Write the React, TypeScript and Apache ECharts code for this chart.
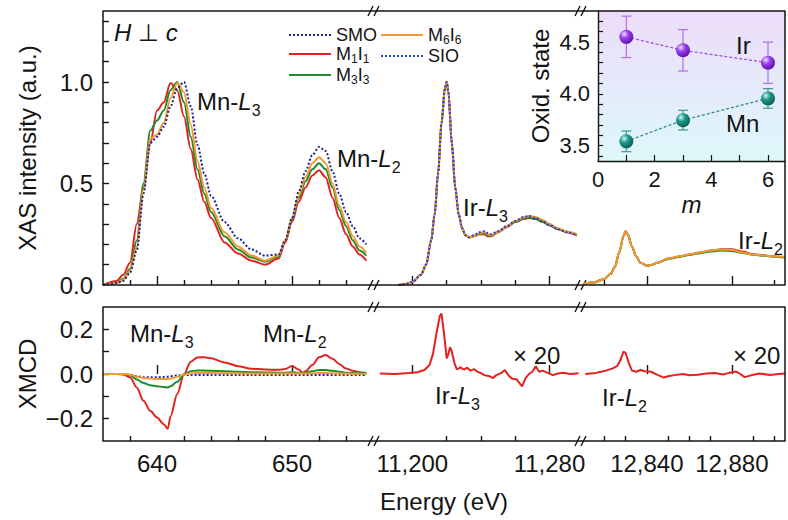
import React, { useEffect, useRef } from 'react';
import * as echarts from 'echarts';

const FONT = "'Liberation Sans', Arial, Helvetica, sans-serif";
const INK = '#141414';
const RED = '#e3231f';
const GREEN = '#1f8a2b';
const ORANGE = '#f29a30';
const SMO_BLUE = '#1d2290';
const SIO_BLUE = '#2a3bdc';

// ---------- axis ticks / labels ----------
const mnMajorTicks = [640, 650];
const mnMinorTicks = [638, 642, 644, 646, 648, 652, 654];
const irL3MajorTicks = [11200, 11280];
const irL3MinorTicks = [11220, 11240, 11260];
const irL2MajorTicks = [12840, 12880];
const irL2MinorTicksTop = [12820, 12860, 12900];
const irL2MinorTicksBottom = [12820, 12830, 12850, 12860, 12870, 12890, 12900];
const xasTicks = [0.1, 0.2, 0.3, 0.4, 0.5, 0.6, 0.7, 0.8, 0.9, 1.0, 1.1, 1.2, 1.3];
const xasLabels = [0, 0.5, 1.0];
const xmcdTicks = [-0.2, -0.1, 0, 0.1, 0.2];
const xmcdLabels = [-0.2, 0, 0.2];
const insetXTicks = [1, 2, 3, 4, 5, 6];
const insetXLabels = [0, 2, 4, 6];
const insetYTicks = [3.4, 3.5, 3.6, 3.7, 3.8, 3.9, 4.0, 4.1, 4.2, 4.3, 4.4, 4.5, 4.6, 4.7];
const insetYLabels = [3.5, 4.0, 4.5];

// ---------- XAS, Mn L-edge ----------
const mnEnergy = [636, 637, 637.5, 638, 638.5, 639, 639.5, 640, 640.5, 641, 641.5, 642, 642.5, 643, 643.5, 644, 645, 646, 647, 648, 649, 649.5, 650, 650.5, 651, 651.5, 652, 652.5, 653, 653.5, 654, 654.5, 655, 655.5];
const mnXasM1I1 = [0, 0.02, 0.05, 0.11, 0.30, 0.48, 0.70, 0.86, 0.90, 0.995, 0.96, 0.83, 0.67, 0.52, 0.41, 0.33, 0.21, 0.155, 0.12, 0.10, 0.13, 0.21, 0.31, 0.41, 0.48, 0.54, 0.565, 0.53, 0.43, 0.33, 0.25, 0.19, 0.15, 0.12];
const mnXasM3I3 = [0, 0.01, 0.03, 0.08, 0.22, 0.50, 0.76, 0.81, 0.86, 0.96, 1.0, 0.90, 0.73, 0.57, 0.45, 0.36, 0.24, 0.175, 0.135, 0.115, 0.14, 0.22, 0.32, 0.43, 0.51, 0.57, 0.60, 0.57, 0.48, 0.37, 0.29, 0.22, 0.17, 0.145];
const mnXasM6I6 = [0, 0.01, 0.025, 0.07, 0.19, 0.47, 0.72, 0.74, 0.80, 0.92, 0.995, 0.95, 0.79, 0.61, 0.48, 0.38, 0.26, 0.19, 0.145, 0.12, 0.145, 0.22, 0.33, 0.44, 0.53, 0.60, 0.63, 0.60, 0.50, 0.39, 0.31, 0.24, 0.19, 0.16];
const mnXasSMO = [0, 0.01, 0.02, 0.06, 0.17, 0.45, 0.70, 0.73, 0.78, 0.88, 0.97, 1.0, 0.88, 0.69, 0.55, 0.44, 0.31, 0.23, 0.175, 0.145, 0.15, 0.22, 0.33, 0.46, 0.56, 0.64, 0.68, 0.66, 0.56, 0.45, 0.36, 0.29, 0.23, 0.20];

// ---------- XAS, Ir L3-edge ----------
const irL3Energy = [11192, 11196, 11200, 11205, 11208, 11211, 11213, 11215, 11217, 11219, 11220, 11221, 11223, 11225, 11227, 11229, 11231, 11233, 11236, 11239, 11242, 11244, 11246, 11250, 11255, 11260, 11265, 11268, 11272, 11276, 11280, 11285, 11290, 11296];
const irL3XasM1I1 = [0, 0.005, 0.015, 0.05, 0.10, 0.22, 0.35, 0.55, 0.80, 0.97, 1.0, 0.95, 0.70, 0.48, 0.35, 0.28, 0.245, 0.235, 0.24, 0.25, 0.25, 0.24, 0.24, 0.26, 0.285, 0.31, 0.325, 0.33, 0.325, 0.31, 0.295, 0.275, 0.26, 0.245];
const irL3XasM3I3 = [0, 0.005, 0.015, 0.05, 0.10, 0.22, 0.35, 0.55, 0.80, 0.97, 1.0, 0.95, 0.70, 0.48, 0.35, 0.28, 0.245, 0.235, 0.242, 0.252, 0.255, 0.245, 0.243, 0.262, 0.287, 0.312, 0.328, 0.332, 0.326, 0.312, 0.295, 0.276, 0.262, 0.248];
const irL3XasM6I6 = [0, 0.005, 0.015, 0.05, 0.10, 0.22, 0.35, 0.55, 0.80, 0.97, 1.0, 0.95, 0.70, 0.48, 0.35, 0.28, 0.245, 0.235, 0.24, 0.255, 0.26, 0.25, 0.245, 0.262, 0.288, 0.315, 0.333, 0.34, 0.335, 0.32, 0.30, 0.28, 0.263, 0.25];
const irL3XasSIO = [0, 0.005, 0.015, 0.05, 0.10, 0.22, 0.35, 0.55, 0.80, 0.97, 1.0, 0.95, 0.70, 0.48, 0.35, 0.28, 0.245, 0.235, 0.245, 0.26, 0.265, 0.255, 0.25, 0.265, 0.29, 0.315, 0.335, 0.34, 0.33, 0.315, 0.295, 0.275, 0.26, 0.245];

// ---------- XAS, Ir L2-edge ----------
const irL2Energy = [12810, 12815, 12820, 12823, 12825, 12827, 12829, 12830, 12831, 12833, 12835, 12837, 12840, 12842, 12845, 12850, 12855, 12860, 12865, 12870, 12875, 12880, 12885, 12890, 12895, 12900, 12905];
const irL2XasM1I1 = [0.005, 0.012, 0.03, 0.055, 0.09, 0.16, 0.24, 0.265, 0.25, 0.19, 0.14, 0.11, 0.095, 0.098, 0.11, 0.13, 0.14, 0.15, 0.16, 0.17, 0.176, 0.176, 0.165, 0.152, 0.146, 0.141, 0.138];
const irL2XasM3I3 = [0.005, 0.012, 0.03, 0.055, 0.09, 0.16, 0.24, 0.265, 0.25, 0.19, 0.14, 0.11, 0.095, 0.098, 0.11, 0.128, 0.138, 0.148, 0.157, 0.165, 0.17, 0.168, 0.158, 0.149, 0.144, 0.139, 0.136];
const irL2XasM6I6 = [0.005, 0.012, 0.03, 0.055, 0.09, 0.16, 0.24, 0.265, 0.25, 0.19, 0.14, 0.11, 0.095, 0.098, 0.11, 0.13, 0.14, 0.15, 0.16, 0.17, 0.175, 0.172, 0.16, 0.15, 0.145, 0.14, 0.138];

// ---------- XMCD, Mn L-edge ----------
const mnMcdEnergy = [636, 637, 637.5, 638, 638.5, 639, 639.5, 640, 640.5, 640.8, 641, 641.5, 642, 642.5, 643, 643.5, 644, 645, 646, 647, 648, 649, 649.5, 650, 650.5, 650.8, 651, 651.5, 652, 652.5, 653, 653.5, 654, 654.5, 655, 655.5];
const mnMcdM1I1 = [0, 0, -0.002, -0.015, -0.06, -0.12, -0.165, -0.195, -0.225, -0.245, -0.19, -0.09, 0.0, 0.055, 0.074, 0.075, 0.07, 0.052, 0.035, 0.024, 0.02, 0.019, 0.022, 0.036, 0.02, 0.006, 0.012, 0.04, 0.075, 0.085, 0.068, 0.045, 0.025, 0.015, 0.008, 0.005];
const mnMcdM3I3 = [0, 0, 0, -0.005, -0.025, -0.04, -0.05, -0.055, -0.058, -0.06, -0.055, -0.035, -0.002, 0.012, 0.016, 0.016, 0.014, 0.012, 0.01, 0.008, 0.007, 0.006, 0.006, 0.008, 0.006, 0.004, 0.006, 0.012, 0.018, 0.018, 0.014, 0.01, 0.006, 0.004, 0.003, 0.002];
const mnMcdM6I6 = [0, 0, 0, -0.003, -0.012, -0.018, -0.02, -0.022, -0.022, -0.022, -0.02, -0.012, -0.002, 0.002, 0.004, 0.004, 0.004, 0.003, 0.003, 0.002, 0.002, 0.002, 0.002, 0.003, 0.002, 0.002, 0.002, 0.003, 0.004, 0.004, 0.003, 0.002, 0.002, 0.001, 0.001, 0.001];
const mnMcdSMO = [0, 0, 0, -0.003, -0.01, -0.014, -0.015, -0.015, -0.013, -0.012, -0.01, -0.007, -0.005, -0.005, -0.005, -0.005, -0.005, -0.005, -0.005, -0.005, -0.005, -0.005, -0.005, -0.005, -0.005, -0.005, -0.005, -0.005, -0.005, -0.005, -0.005, -0.005, -0.005, -0.005, -0.005, -0.005];

// ---------- XMCD (x20), Ir L3 / L2 ----------
const irL3McdEnergy = [11181, 11190, 11198, 11203, 11207, 11210, 11212, 11214, 11216, 11217, 11218.5, 11220, 11221, 11222, 11223, 11224.5, 11226, 11228, 11230, 11232, 11234, 11236, 11238, 11240, 11242, 11245, 11247, 11249, 11252, 11254, 11256, 11258, 11261, 11263, 11264, 11266, 11268, 11270, 11272, 11274, 11276, 11279, 11282, 11285, 11288, 11292, 11297];
const irL3McdM1I1 = [0.002, 0, 0.004, 0.008, 0.018, 0.04, 0.09, 0.18, 0.26, 0.27, 0.18, 0.07, 0.09, 0.12, 0.1, 0.05, 0.02, 0.03, 0.02, 0.028, 0.015, 0.022, 0.01, 0.004, -0.005, -0.01, -0.018, -0.005, 0.005, 0.018, -0.005, -0.02, -0.025, -0.045, -0.055, -0.02, 0, 0.01, 0.035, 0.01, 0.015, 0.005, -0.005, 0.002, 0.006, 0, 0.003];
const irL2McdEnergy = [12811, 12816, 12820, 12824, 12826, 12827.5, 12829, 12830, 12831.5, 12833, 12835, 12837, 12839, 12842, 12845, 12848, 12850, 12853, 12857, 12860, 12864, 12868, 12872, 12876, 12879, 12882, 12884, 12886, 12889, 12893, 12898, 12902, 12905];
const irL2McdM1I1 = [0, 0.005, 0.013, 0.025, 0.035, 0.06, 0.1, 0.095, 0.05, 0.015, 0.01, 0.018, 0.012, 0.01, -0.004, -0.016, -0.01, -0.005, 0, -0.006, -0.003, 0.002, 0.004, -0.002, 0.006, 0.011, 0, -0.014, -0.006, 0.002, -0.004, 0, 0.002];

// ---------- inset: oxidation states ----------
const layersM = [1, 3, 6];
const irOxidation = [4.55, 4.42, 4.30];
const irError = [0.2, 0.2, 0.2];
const mnOxidation = [3.54, 3.745, 3.955];
const mnError = [0.1, 0.095, 0.095];

// ---------- layout ----------
const PANEL_LEFT = 103;
const PANEL_RIGHT = 785;
const TOP_Y = 11;
const TOP_H = 274;
const BOT_Y = 307;
const BOT_H = 134;
const SEG = [
  { left: 103, width: 270, min: 636, max: 656 },
  { left: 373, width: 209, min: 11177, max: 11299 },
  { left: 582, width: 203, min: 12809.5, max: 12905 },
];
const BREAK_X = [375, 582];

const fmtEnergy = (v: number) => (v >= 1000 ? v.toLocaleString('en-US') : String(v));
const fmtSigned = (v: number) => (v < 0 ? '\u2212' + Math.abs(v).toFixed(1) : v.toFixed(1));

const RICH_ANN = {
  n: { fontSize: 24, fontFamily: FONT, color: INK, lineHeight: 34 },
  i: { fontSize: 24, fontFamily: FONT, color: INK, fontStyle: 'italic', lineHeight: 34 },
  s: { fontSize: 16, fontFamily: FONT, color: INK, verticalAlign: 'bottom', lineHeight: 16 },
};
const RICH_LEG = {
  n: { fontSize: 18, fontFamily: FONT, color: INK, lineHeight: 22 },
  s: { fontSize: 12, fontFamily: FONT, color: INK, verticalAlign: 'bottom', lineHeight: 12 },
};
const legendLabel: Record<string, string> = {
  SMO: '{n|SMO}',
  M1I1: '{n|M}{s|1}{n|I}{s|1}',
  M3I3: '{n|M}{s|3}{n|I}{s|3}',
  M6I6: '{n|M}{s|6}{n|I}{s|6}',
  SIO: '{n|SIO}',
};

function xAxesFor(grid: number, major: number[], minor: number[], labels: boolean) {
  const seg = SEG[grid % 3];
  const common = {
    type: 'value', gridIndex: grid, min: seg.min, max: seg.max, position: 'bottom',
    axisLine: { show: false }, splitLine: { show: false }, axisPointer: { show: false },
  };
  return [
    {
      ...common,
      axisTick: { show: true, inside: true, length: 9, customValues: major, lineStyle: { color: INK, width: 1.4 } },
      axisLabel: { show: labels, customValues: major, formatter: fmtEnergy, fontSize: 24, color: INK, fontFamily: FONT, margin: 10 },
    },
    {
      ...common,
      axisTick: { show: true, inside: true, length: 5, customValues: minor, lineStyle: { color: INK, width: 1.4 } },
      axisLabel: { show: false },
    },
  ];
}

function hiddenY(grid: number, min: number, max: number) {
  return { type: 'value', gridIndex: grid, min, max, show: false };
}

function curve(name: string, grid: number, xs: number[], ys: number[], color: string, dotted: boolean, smooth: boolean) {
  return {
    type: 'line', name, xAxisIndex: grid * 2, yAxisIndex: grid,
    data: xs.map((x, i) => [x, ys[i]]),
    symbol: 'none', smooth: smooth ? 0.3 : false, smoothMonotone: 'x',
    lineStyle: { color, width: 2, type: dotted ? [2, 2] : 'solid' },
    itemStyle: { color },
    emphasis: { disabled: true }, silent: true,
  };
}

function errorBars(ys: number[], errs: number[], color: string) {
  return {
    type: 'custom', xAxisIndex: 12, yAxisIndex: 6, z: 3, silent: true,
    data: layersM.map((m, i) => [m, ys[i] - errs[i], ys[i] + errs[i]]),
    encode: { x: 0, y: [1, 2] },
    renderItem: (_p: any, api: any) => {
      const x = api.value(0);
      const lo = api.coord([x, api.value(1)]);
      const hi = api.coord([x, api.value(2)]);
      const st = { stroke: color, lineWidth: 1.2 };
      return {
        type: 'group',
        children: [
          { type: 'line', shape: { x1: lo[0], y1: lo[1], x2: hi[0], y2: hi[1] }, style: st },
          { type: 'line', shape: { x1: lo[0] - 5, y1: lo[1], x2: lo[0] + 5, y2: lo[1] }, style: st },
          { type: 'line', shape: { x1: hi[0] - 5, y1: hi[1], x2: hi[0] + 5, y2: hi[1] }, style: st },
        ],
      };
    },
  };
}

function sphere(light: string, mid: string, dark: string) {
  return new echarts.graphic.RadialGradient(0.35, 0.3, 0.75, [
    { offset: 0, color: light },
    { offset: 0.4, color: mid },
    { offset: 1, color: dark },
  ]);
}

function ann(text: string, x: number, y: number, align = 'left') {
  return { type: 'text', x, y, z: 60, silent: true, style: { text, rich: RICH_ANN, align, verticalAlign: 'middle', fill: INK, fontSize: 24, fontFamily: FONT } };
}

function breakMark(x: number, y: number) {
  const st = { stroke: INK, lineWidth: 1.4 };
  return {
    type: 'group', z: 70, silent: true,
    children: [
      { type: 'rect', shape: { x: x - 3, y: y - 2, width: 5, height: 4 }, style: { fill: '#fff' } },
      { type: 'line', shape: { x1: x - 7, y1: y + 5, x2: x - 2, y2: y - 5 }, style: st },
      { type: 'line', shape: { x1: x - 1, y1: y + 5, x2: x + 4, y2: y - 5 }, style: st },
    ],
  };
}

function buildOption() {
  const grids = [
    ...SEG.map((s) => ({ left: s.left, top: TOP_Y, width: s.width, height: TOP_H })),
    ...SEG.map((s) => ({ left: s.left, top: BOT_Y, width: s.width, height: BOT_H })),
    {
      left: 598, top: TOP_Y, width: PANEL_RIGHT - 598, height: 150, show: true, borderWidth: 0,
      backgroundColor: new echarts.graphic.LinearGradient(0, 0, 0, 1, [
        { offset: 0, color: '#eddcfa' },
        { offset: 1, color: '#ddf8fa' },
      ]),
    },
  ];

  const xAxis: any[] = [
    ...xAxesFor(0, mnMajorTicks, mnMinorTicks, false),
    ...xAxesFor(1, irL3MajorTicks, irL3MinorTicks, false),
    ...xAxesFor(2, irL2MajorTicks, irL2MinorTicksTop, false),
    ...xAxesFor(3, mnMajorTicks, mnMinorTicks, true),
    ...xAxesFor(4, irL3MajorTicks, irL3MinorTicks, true),
    ...xAxesFor(5, irL2MajorTicks, irL2MinorTicksBottom, true),
    {
      type: 'value', gridIndex: 6, min: 0, max: 6.6, position: 'bottom',
      axisLine: { show: true, lineStyle: { color: INK, width: 1.4 } },
      axisTick: { show: true, inside: true, length: 6, customValues: insetXTicks, lineStyle: { color: INK, width: 1.2 } },
      axisLabel: { customValues: insetXLabels, fontSize: 22, color: INK, fontFamily: FONT, margin: 7 },
      splitLine: { show: false },
      name: 'm', nameLocation: 'middle', nameGap: 31,
      nameTextStyle: { fontSize: 24, fontStyle: 'italic', color: INK, fontFamily: FONT },
    },
  ];

  const yAxis: any[] = [
    {
      type: 'value', gridIndex: 0, min: 0, max: 1.35,
      axisLine: { show: false }, splitLine: { show: false },
      axisTick: { show: true, inside: true, length: 6, customValues: xasTicks, lineStyle: { color: INK, width: 1.4 } },
      axisLabel: { customValues: xasLabels, formatter: fmtSigned, fontSize: 24, color: INK, fontFamily: FONT, margin: 10 },
      name: 'XAS intensity (a.u.)', nameLocation: 'middle', nameGap: 64,
      nameTextStyle: { fontSize: 24, color: INK, fontFamily: FONT },
    },
    hiddenY(1, 0, 1.35),
    hiddenY(2, 0, 1.35),
    {
      type: 'value', gridIndex: 3, min: -0.3, max: 0.3,
      axisLine: { show: false }, splitLine: { show: false },
      axisTick: { show: true, inside: true, length: 6, customValues: xmcdTicks, lineStyle: { color: INK, width: 1.4 } },
      axisLabel: { customValues: xmcdLabels, formatter: fmtSigned, fontSize: 24, color: INK, fontFamily: FONT, margin: 10 },
      name: 'XMCD', nameLocation: 'middle', nameGap: 64,
      nameTextStyle: { fontSize: 24, color: INK, fontFamily: FONT },
    },
    hiddenY(4, -0.3, 0.3),
    hiddenY(5, -0.3, 0.3),
    {
      type: 'value', gridIndex: 6, min: 3.35, max: 4.8,
      axisLine: { show: true, lineStyle: { color: INK, width: 1.4 } }, splitLine: { show: false },
      axisTick: { show: true, inside: true, length: 5, customValues: insetYTicks, lineStyle: { color: INK, width: 1.2 } },
      axisLabel: { customValues: insetYLabels, formatter: (v: number) => v.toFixed(1), fontSize: 22, color: INK, fontFamily: FONT, margin: 8 },
      name: 'Oxid. state', nameLocation: 'middle', nameGap: 46,
      nameTextStyle: { fontSize: 24, color: INK, fontFamily: FONT },
    },
  ];

  const series: any[] = [
    // top panel, Mn L
    curve('M1I1', 0, mnEnergy, mnXasM1I1, RED, false, true),
    curve('M3I3', 0, mnEnergy, mnXasM3I3, GREEN, false, true),
    curve('M6I6', 0, mnEnergy, mnXasM6I6, ORANGE, false, true),
    curve('SMO', 0, mnEnergy, mnXasSMO, SMO_BLUE, true, true),
    // top panel, Ir L3
    curve('M1I1', 1, irL3Energy, irL3XasM1I1, RED, false, true),
    curve('M3I3', 1, irL3Energy, irL3XasM3I3, GREEN, false, true),
    curve('M6I6', 1, irL3Energy, irL3XasM6I6, ORANGE, false, true),
    curve('SIO', 1, irL3Energy, irL3XasSIO, SIO_BLUE, true, true),
    // top panel, Ir L2
    curve('M1I1', 2, irL2Energy, irL2XasM1I1, RED, false, true),
    curve('M3I3', 2, irL2Energy, irL2XasM3I3, GREEN, false, true),
    curve('M6I6', 2, irL2Energy, irL2XasM6I6, ORANGE, false, true),
    // bottom panel, Mn L XMCD
    curve('SMO', 3, mnMcdEnergy, mnMcdSMO, SMO_BLUE, true, true),
    curve('M1I1', 3, mnMcdEnergy, mnMcdM1I1, RED, false, true),
    curve('M3I3', 3, mnMcdEnergy, mnMcdM3I3, GREEN, false, true),
    curve('M6I6', 3, mnMcdEnergy, mnMcdM6I6, ORANGE, false, true),
    // bottom panel, Ir XMCD x20
    curve('M1I1', 4, irL3McdEnergy, irL3McdM1I1, RED, false, false),
    curve('M1I1', 5, irL2McdEnergy, irL2McdM1I1, RED, false, false),
    // inset
    errorBars(irOxidation, irError, '#b070e6'),
    errorBars(mnOxidation, mnError, '#3a9c92'),
    {
      type: 'line', name: 'Ir', xAxisIndex: 12, yAxisIndex: 6, z: 5, silent: true,
      data: layersM.map((m, i) => [m, irOxidation[i]]),
      symbol: 'circle', symbolSize: 14,
      lineStyle: { color: '#9a48e6', width: 1.2, type: [3, 2] },
      itemStyle: { color: sphere('#f3e4ff', '#9b3df0', '#5c0fa8') },
      emphasis: { disabled: true },
    },
    {
      type: 'line', name: 'Mn', xAxisIndex: 12, yAxisIndex: 6, z: 5, silent: true,
      data: layersM.map((m, i) => [m, mnOxidation[i]]),
      symbol: 'circle', symbolSize: 14,
      lineStyle: { color: '#2a8f84', width: 1.2, type: [3, 2] },
      itemStyle: { color: sphere('#d6f7f1', '#1f9a8b', '#0b5a51') },
      emphasis: { disabled: true },
    },
  ];

  const legendCommon = {
    orient: 'vertical', top: 26, padding: 0, itemGap: 1, itemWidth: 42, itemHeight: 12,
    selectedMode: false,
    itemStyle: { opacity: 0 },
    formatter: (name: string) => legendLabel[name] || name,
    textStyle: { rich: RICH_LEG, fontSize: 18, fontFamily: FONT, color: INK },
  };

  const graphic: any[] = [
    { type: 'rect', z: 65, silent: true, shape: { x: PANEL_LEFT, y: TOP_Y, width: PANEL_RIGHT - PANEL_LEFT, height: TOP_H }, style: { fill: 'none', stroke: INK, lineWidth: 1.5 } },
    { type: 'rect', z: 65, silent: true, shape: { x: PANEL_LEFT, y: BOT_Y, width: PANEL_RIGHT - PANEL_LEFT, height: BOT_H }, style: { fill: 'none', stroke: INK, lineWidth: 1.5 } },
    ...BREAK_X.flatMap((bx) => [TOP_Y, TOP_Y + TOP_H, BOT_Y, BOT_Y + BOT_H].map((by) => breakMark(bx, by))),
    ann('{i|H}{n| \u22A5 }{i|c}', 114, 32),
    ann('{n|Mn-}{i|L}{s|3}', 197, 101),
    ann('{n|Mn-}{i|L}{s|2}', 337, 158),
    ann('{n|Ir-}{i|L}{s|3}', 463, 207),
    ann('{n|Ir-}{i|L}{s|2}', 738, 240),
    ann('{n|Mn-}{i|L}{s|3}', 130, 333),
    ann('{n|Mn-}{i|L}{s|2}', 263, 333),
    ann('{n|Ir-}{i|L}{s|3}', 435, 395),
    ann('{n|\u00D7 20}', 513, 355),
    ann('{n|Ir-}{i|L}{s|2}', 602, 397),
    ann('{n|\u00D7 20}', 733, 355),
    ann('{n|Ir}', 736, 45),
    ann('{n|Mn}', 726, 123),
    ann('{n|Energy (eV)}', 444, 501, 'center'),
  ];

  return {
    animation: false,
    backgroundColor: '#ffffff',
    textStyle: { fontFamily: FONT },
    grid: grids,
    xAxis,
    yAxis,
    legend: [
      { ...legendCommon, left: 288, data: ['SMO', 'M1I1', 'M3I3'] },
      { ...legendCommon, left: 380, data: ['M6I6', 'SIO'] },
    ],
    series,
    graphic,
  };
}

export default function App() {
  const ref = useRef<HTMLDivElement>(null);
  useEffect(() => {
    if (!ref.current) return;
    const chart = echarts.init(ref.current, null, { renderer: 'svg' });
    chart.setOption(buildOption() as any);
    return () => chart.dispose();
  }, []);
  return <div ref={ref} style={{ position: 'absolute', left: 0, top: 0, width: 788, height: 520 }} />;
}
